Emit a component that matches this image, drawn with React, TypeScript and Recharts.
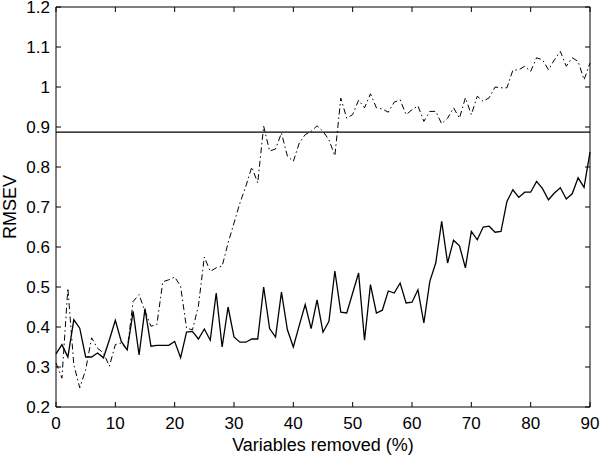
import { Label, Line, LineChart, ReferenceLine, XAxis, YAxis } from 'recharts';

// percent of variables removed, 0..90 in steps of 1
const removed = Array.from({ length: 91 }, (_, i) => i);

const rmsevSolid = [
  0.333, 0.356, 0.325, 0.418, 0.397, 0.325, 0.325, 0.335, 0.323, 0.368,
  0.417, 0.364, 0.343, 0.439, 0.33, 0.446, 0.352, 0.354, 0.354, 0.354,
  0.364, 0.323, 0.387, 0.389, 0.37, 0.395, 0.367, 0.485, 0.35, 0.45,
  0.375, 0.362, 0.362, 0.37, 0.37, 0.5, 0.396, 0.375, 0.487, 0.393,
  0.35, 0.404, 0.456, 0.396, 0.468, 0.387, 0.414, 0.54, 0.437, 0.435,
  0.485, 0.535, 0.367, 0.506, 0.435, 0.442, 0.49, 0.485, 0.51, 0.46,
  0.462, 0.493, 0.41, 0.514, 0.56, 0.664, 0.56, 0.617, 0.603, 0.548,
  0.639, 0.618, 0.65, 0.652, 0.637, 0.639, 0.714, 0.743, 0.724, 0.737,
  0.737, 0.764, 0.746, 0.718, 0.735, 0.748, 0.72, 0.733, 0.773, 0.749,
  0.837
];

const rmsevDashDot = [
  0.31, 0.272, 0.497, 0.306, 0.248, 0.293, 0.373, 0.347, 0.335, 0.302,
  0.356, 0.36, 0.343, 0.464, 0.481, 0.439, 0.402, 0.406, 0.513, 0.518,
  0.525, 0.502, 0.397, 0.393, 0.452, 0.575, 0.539, 0.548, 0.552, 0.61,
  0.66, 0.71, 0.752, 0.8, 0.76, 0.902, 0.84, 0.845, 0.885, 0.827,
  0.814, 0.86, 0.881, 0.889, 0.903, 0.889, 0.868, 0.828, 0.972, 0.922,
  0.931, 0.967, 0.948, 0.983, 0.948, 0.945, 0.937, 0.962, 0.968, 0.931,
  0.943, 0.953, 0.914, 0.939, 0.939, 0.908, 0.922, 0.948, 0.922, 0.973,
  0.931, 0.977, 0.964, 0.973, 1.0, 0.998, 0.998, 1.042, 1.043, 1.052,
  1.039, 1.073, 1.068, 1.043, 1.068, 1.089, 1.052, 1.073, 1.064, 1.018,
  1.06
];

const threshold = 0.887;

const xTicks = [0, 10, 20, 30, 40, 50, 60, 70, 80, 90];
const yTicks = [0.2, 0.3, 0.4, 0.5, 0.6, 0.7, 0.8, 0.9, 1, 1.1, 1.2];

const data = removed.map((x, i) => ({ x, solid: rmsevSolid[i], dashDot: rmsevDashDot[i] }));

const FONT = '"Liberation Sans", Arial, Helvetica, sans-serif';
const TICK_LEN = 5;
const W = 600;
const H = 456;
const MARGIN = { top: 7, right: 10, bottom: 0, left: 0 };
const Y_AXIS_W = 56;
const X_AXIS_H = 49;
// plot box size, used to mirror the inward ticks on the top and right sides
const PLOT_W = W - MARGIN.left - MARGIN.right - Y_AXIS_W;
const PLOT_H = H - MARGIN.top - MARGIN.bottom - X_AXIS_H;

function BottomTick({ x, y, payload }: any) {
  return (
    <g>
      <line x1={x} x2={x} y1={y} y2={y - TICK_LEN} stroke="#000" />
      <line x1={x} x2={x} y1={y - PLOT_H} y2={y - PLOT_H + TICK_LEN} stroke="#000" />
      <text x={x} y={y + 22} textAnchor="middle" fontSize={17} fontFamily={FONT} fill="#000">
        {payload.value}
      </text>
    </g>
  );
}

function LeftTick({ x, y, payload }: any) {
  return (
    <g>
      <line x1={x} x2={x + TICK_LEN} y1={y} y2={y} stroke="#000" />
      <line x1={x + PLOT_W} x2={x + PLOT_W - TICK_LEN} y1={y} y2={y} stroke="#000" />
      <text x={x - 6} y={y + 6} textAnchor="end" fontSize={17} fontFamily={FONT} fill="#000">
        {payload.value}
      </text>
    </g>
  );
}

export default function App() {
  return (
    <div style={{ position: 'absolute', left: 0, top: 0, width: W, height: H, background: '#fff' }}>
      <LineChart width={W} height={H} data={data} margin={MARGIN}>
        <XAxis
          dataKey="x"
          type="number"
          domain={[0, 90]}
          ticks={xTicks}
          height={X_AXIS_H}
          stroke="#000"
          tickLine={false}
          tickSize={0}
          tickMargin={0}
          tick={<BottomTick />}
          interval={0}
        >
          <Label
            content={({ viewBox }: any) => (
              <text
                x={viewBox.x + viewBox.width / 2}
                y={viewBox.y + 44}
                textAnchor="middle"
                fontSize={18}
                fontFamily={FONT}
                fill="#000"
              >
                Variables removed (%)
              </text>
            )}
          />
        </XAxis>
        <YAxis
          type="number"
          domain={[0.2, 1.2]}
          ticks={yTicks}
          width={Y_AXIS_W}
          stroke="#000"
          tickLine={false}
          tickSize={0}
          tickMargin={0}
          tick={<LeftTick />}
          interval={0}
        >
          <Label
            content={({ viewBox }: any) => {
              const cx = viewBox.x + 16;
              const cy = viewBox.y + viewBox.height / 2;
              return (
                <text
                  x={cx}
                  y={cy}
                  transform={`rotate(-90 ${cx} ${cy})`}
                  textAnchor="middle"
                  fontSize={18}
                  fontFamily={FONT}
                  fill="#000"
                >
                  RMSEV
                </text>
              );
            }}
          />
        </YAxis>
        {/* top and right frame of the box */}
        <ReferenceLine y={1.2} stroke="#000" />
        <ReferenceLine x={90} stroke="#000" />
        <ReferenceLine y={threshold} stroke="#000" strokeWidth={1.3} />
        <Line
          type="linear"
          dataKey="dashDot"
          stroke="#000"
          strokeWidth={1}
          strokeDasharray="6 3 1.5 3"
          dot={false}
          isAnimationActive={false}
        />
        <Line
          type="linear"
          dataKey="solid"
          stroke="#000"
          strokeWidth={1.3}
          dot={false}
          isAnimationActive={false}
        />
      </LineChart>
    </div>
  );
}
